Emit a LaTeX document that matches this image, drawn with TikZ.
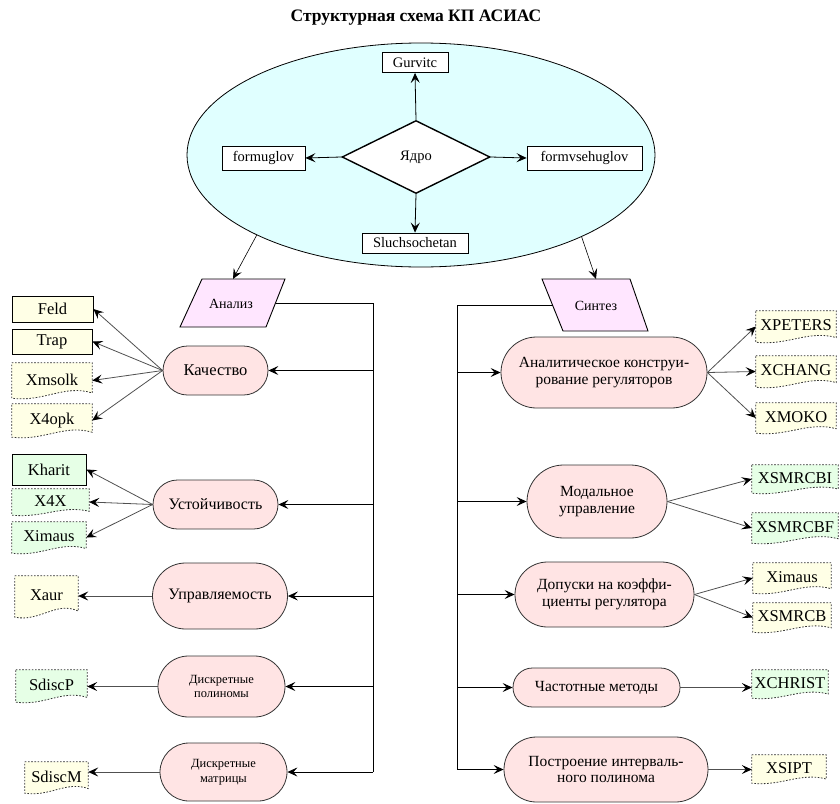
\documentclass[tikz,border=0pt]{standalone}
\usepackage{fontspec}
\setmainfont{Liberation Serif}
\usetikzlibrary{arrows.meta,shapes.geometric,shapes.misc,backgrounds,calc}

\definecolor{cyanbg}{RGB}{224,255,255}
\definecolor{ovalpink}{RGB}{255,228,228}
\definecolor{parapink}{RGB}{255,230,255}
\definecolor{ylw}{RGB}{255,255,230}
\definecolor{grn}{RGB}{230,255,230}
\definecolor{lnc}{RGB}{80,80,80}

\newcommand\fs[1]{\fontsize{#1}{#1}\selectfont}

\tikzset{
  arr/.style={-{Stealth[length=10pt,width=9pt,inset=4pt,color=black]}, line width=0.8pt},
  garr/.style={arr, draw=lnc},
  busline/.style={line width=0.8pt},
  sbox/.style={draw, rectangle, inner sep=0pt, line width=0.8pt, font=\fs{16.5}},
  wbox/.style={draw, rectangle, inner sep=0pt, fill=white, line width=0.8pt, font=\fs{14.5}},
  docn/.style={rectangle, inner sep=0pt, font=\fs{16.5}},
  docline/.style={draw=black!80, line width=0.8pt, dash pattern=on 1.6pt off 1.6pt},
  oval/.style={rounded rectangle, draw=black!80, fill=ovalpink, inner sep=0pt, align=center, line width=0.8pt, font=\fs{15.5}},
  para/.style={draw, fill=parapink, line width=0.9pt},
}

\newcommand\docbox[7]{%
  \node[docn, minimum width=#4pt, minimum height=#5pt] (#1) at (#2,#3) {\raisebox{2pt}{#7}};
  \begin{pgfonlayer}{background}
  \path[docline, fill=#6] (#1.north west) -- (#1.north east) -- ($(#1.south east)+(0,-0.15*#5)$)
     .. controls ($(#1.south)+(0.15*#4,-0.4*#5)$) and ($(#1.south)+(-0.1*#4,0.12*#5)$) .. (#1.south west) -- cycle;
  \end{pgfonlayer}
}

\begin{document}
\begin{tikzpicture}[x=1pt,y=-1pt]
\useasboundingbox (0,0) rectangle (840,803);

% title
\node[font=\bfseries\fs{17.5}] (title) at (416,18) {Структурная схема КП АСИАС};

% core ellipse
\node[ellipse, draw, fill=cyanbg, minimum width=468pt, minimum height=224pt, inner sep=0pt, line width=0.8pt] (core) at (421,155) {};
\node[diamond, draw, fill=white, minimum width=148pt, minimum height=73pt, inner sep=0pt, line width=1.4pt, font=\fs{14.5}] (kern) at (416,157) {Ядро};
\node[wbox, minimum width=66pt, minimum height=20pt] (gurv) at (415,62.5) {Gurvitc};
\node[wbox, minimum width=83pt, minimum height=24pt] (fu) at (263.5,158) {formuglov};
\node[wbox, minimum width=115pt, minimum height=24pt] (fvu) at (584.5,158) {formvsehuglov};
\node[wbox, minimum width=106pt, minimum height=20pt] (sluch) at (415,243) {Sluchsochetan};
\draw[arr] (kern.north) -- (gurv.south);
\draw[arr] (kern.west) -- (fu.east);
\draw[arr] (kern.east) -- (fvu.west);
\draw[arr] (kern.south) -- (sluch.north);

% parallelograms
\draw[para] (180,327) -- (202,279) -- (285,279) -- (266,327) -- cycle;
\node[font=\fs{14}] (analiz) at (231,304) {Анализ};
\coordinate (anaTop) at (233,279);
\coordinate (anaR) at (276,303);
\draw[para] (542,279) -- (630,279) -- (648,331) -- (563,331) -- cycle;
\node[font=\fs{14}] (sintez) at (596,306) {Синтез};
\coordinate (synTop) at (596,279);
\coordinate (synL) at (552.5,305);

\draw[arr, line width=0.6pt] (core.206) -- (anaTop);
\draw[arr, line width=0.6pt] (core.333) -- (synTop);

% left ovals
\node[oval, minimum width=105pt, minimum height=49pt, font=\fs{16.5}] (kach) at (215.5,370.5) {Качество};
\node[oval, minimum width=125pt, minimum height=49pt, font=\fs{16}] (ust) at (215.5,504.5) {Устойчивость};
\node[oval, minimum width=135pt, minimum height=66pt, font=\fs{16}] (upr) at (220,596) {Управляемость};
\node[oval, minimum width=127pt, minimum height=61pt, font=\fs{12.5}] (dpol) at (221.5,686.5) {Дискретные\\[2pt]полиномы};
\node[oval, minimum width=127pt, minimum height=58pt, font=\fs{12.5}] (dmat) at (223.5,772) {Дискретные\\[2pt]матрицы};

% left boxes
\node[sbox, fill=ylw, minimum width=81pt, minimum height=26pt] (feld) at (52.5,309) {Feld};
\node[sbox, fill=ylw, minimum width=80pt, minimum height=25pt] (trap) at (52,341.5) {Trap};
\docbox{xmsolk}{52}{380.5}{80}{35}{ylw}{Xmsolk}
\docbox{xopk}{52}{420.5}{80}{33}{ylw}{X4opk}
\node[sbox, fill=grn, minimum width=74pt, minimum height=31pt] (kharit) at (49,469.5) {Kharit};
\docbox{xfx}{50.5}{502}{77}{26}{grn}{X4X}
\docbox{ximausL}{49}{537.5}{74}{31}{grn}{Ximaus}
\docbox{xaur}{46.5}{596.5}{63}{41}{ylw}{Xaur}
\docbox{sdiscp}{51.5}{686}{71}{32}{grn}{SdiscP}
\docbox{sdiscm}{56.5}{777.5}{63}{31}{ylw}{SdiscM}

\draw[garr] (kach.west) -- (feld.east);
\draw[garr] (kach.west) -- (trap.east);
\draw[garr] (kach.west) -- (xmsolk.east);
\draw[garr] (kach.west) -- (xopk.east);
\draw[garr] (ust.west) -- (kharit.east);
\draw[garr] (ust.west) -- (xfx.east);
\draw[garr] (ust.west) -- (ximausL.east);
\draw[garr] (upr.west) -- (upr.west -| xaur.east);
\draw[garr] (dpol.west) -- (dpol.west -| sdiscp.east);
\draw[garr] (dmat.west) -- (dmat.west -| sdiscm.east);

% left bus
\coordinate (busL) at (373,303);
\draw[busline] (anaR) -- (busL) -- (busL |- dmat.east);
\draw[arr] (kach.east -| busL) -- (kach.east);
\draw[arr] (ust.east -| busL) -- (ust.east);
\draw[arr] (upr.east -| busL) -- (upr.east);
\draw[arr] (dpol.east -| busL) -- (dpol.east);
\draw[arr] (dmat.east -| busL) -- (dmat.east);

% right ovals
\node[oval, minimum width=206pt, minimum height=71pt] (anal) at (604,372.5) {Аналитическое конструи-\\[1pt]рование регуляторов};
\node[oval, minimum width=140pt, minimum height=73pt] (modal) at (597,501.5) {Модальное\\[1pt]управление};
\node[oval, minimum width=179pt, minimum height=65pt] (dop) at (604.5,594.5) {Допуски на коэффи-\\[1pt]циенты регулятора};
\node[oval, minimum width=167pt, minimum height=39pt] (chast) at (596.5,687.5) {Частотные методы};
\node[oval, minimum width=204pt, minimum height=65pt] (postr) at (606,769.5) {Построение интерваль-\\[1pt]ного полинома};

% right boxes
\docbox{xpeters}{796}{326.5}{80}{31}{ylw}{XPETERS}
\docbox{xchang}{796}{371.5}{80}{31}{ylw}{XCHANG}
\docbox{xmoko}{796}{418}{80}{30}{ylw}{XMOKO}
\docbox{xsmrcbi}{795}{479}{86}{28}{grn}{XSMRCBI}
\docbox{xsmrcbf}{795}{528}{86}{30}{grn}{XSMRCBF}
\docbox{ximausR}{792}{578}{78}{30}{ylw}{Ximaus}
\docbox{xsmrcb}{792}{617.5}{78}{29}{ylw}{XSMRCB}
\docbox{xchrist}{790}{684}{76}{28}{grn}{XCHRIST}
\docbox{xsipt}{789}{769}{74}{28}{ylw}{XSIPT}

\draw[garr] (anal.east) -- (xpeters.west);
\draw[garr] (anal.east) -- (xchang.west);
\draw[garr] (anal.east) -- (xmoko.west);
\draw[garr] (modal.east) -- (xsmrcbi.west);
\draw[garr] (modal.east) -- (xsmrcbf.west);
\draw[garr] (dop.east) -- (ximausR.west);
\draw[garr] (dop.east) -- (xsmrcb.west);
\draw[garr] (chast.east) -- (chast.east -| xchrist.west);
\draw[garr] (postr.east) -- (postr.east -| xsipt.west);

% right bus
\coordinate (busR) at (457,305);
\draw[busline] (synL) -- (busR) -- (busR |- postr.west);
\draw[arr] (anal.west -| busR) -- (anal.west);
\draw[arr] (modal.west -| busR) -- (modal.west);
\draw[arr] (dop.west -| busR) -- (dop.west);
\draw[arr] (chast.west -| busR) -- (chast.west);
\draw[arr] (postr.west -| busR) -- (postr.west);
\end{tikzpicture}
\end{document}
